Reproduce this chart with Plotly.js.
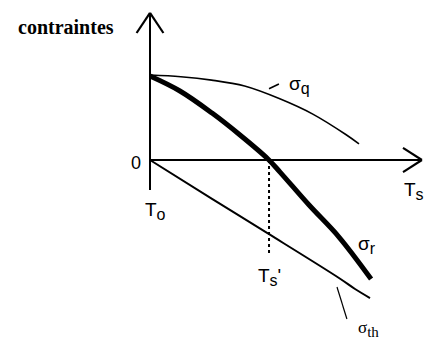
<!DOCTYPE html>
<html>
<head>
<meta charset="utf-8">
<script src="https://cdn.plot.ly/plotly-3.0.1.min.js"></script>
<style>
  html, body { margin: 0; padding: 0; background: white; }
  #chart { width: 424px; height: 343px; }
</style>
</head>
<body>
<div id="chart"></div>
<script>
// Schematic: stresses vs. temperature during cooling (T0 -> Ts).
// Units are arbitrary: T from T0 = 0, stress in relative units.

const tQ = [0, 1.4, 2.8, 4.3, 5.9, 7.4, 8.9, 9.5];
const sigmaQ = [5.0, 4.9, 4.7, 4.35, 3.6, 2.7, 1.5, 0.95];

const tR = [0, 1.36, 2.82, 4.09, 5.36, 5.91, 7.23, 8.59, 10.05];
const sigmaR = [4.94, 4.06, 2.76, 1.47, 0.06, -0.71, -2.65, -4.53, -7.0];

const tTh = [0, 2.82, 5.32, 8.59, 9.32, 10.0];
const sigmaTh = [0, -2.29, -4.29, -6.94, -7.59, -8.12];

const tsPrime = 5.41;       // where sigma_r crosses zero
const tsPrimeDashEnd = -5.6;

const INK = "#000";
const SANS = "Liberation Sans, Arial, sans-serif";
const SERIF = "Liberation Serif, Times New Roman, serif";

// axis extents (data units)
const xAxisEnd = 12.36;
const yAxisTop = 8.65;
const yAxisBottom = -1.76;
const arrowLenX = 0.86, arrowHalfY = 0.71;   // x-axis chevron
const arrowLenY = 1.18, arrowHalfX = 0.61;   // y-axis chevron

const traces = [
  { x: tQ, y: sigmaQ, mode: "lines", line: { color: INK, width: 1.6, shape: "spline" }, hoverinfo: "skip" },
  { x: tR, y: sigmaR, mode: "lines", line: { color: INK, width: 5, shape: "spline" }, hoverinfo: "skip" },
  { x: tTh, y: sigmaTh, mode: "lines", line: { color: INK, width: 2, shape: "spline" }, hoverinfo: "skip" },
];

function seg(x0, y0, x1, y1, w, dash) {
  return { type: "line", xref: "x", yref: "y", x0, y0, x1, y1,
    line: { color: INK, width: w, dash: dash || "solid" } };
}

const shapes = [
  // axes
  seg(0, yAxisBottom, 0, yAxisTop, 2),
  seg(0, 0, xAxisEnd, 0, 2),
  // chevrons
  seg(-arrowHalfX, yAxisTop - arrowLenY, 0, yAxisTop, 2.2),
  seg(arrowHalfX, yAxisTop - arrowLenY, 0, yAxisTop, 2.2),
  seg(xAxisEnd - arrowLenX, arrowHalfY, xAxisEnd, 0, 2.2),
  seg(xAxisEnd - arrowLenX, -arrowHalfY, xAxisEnd, 0, 2.2),
  // Ts' dotted marker
  seg(tsPrime, 0, tsPrime, tsPrimeDashEnd, 2, "dot"),
  // leader lines
  seg(5.41, 4.19, 5.86, 4.47, 1.6),
  seg(8.5, -7.47, 8.95, -9.35, 1.2),
];

function sub(s, px) {
  return "<sub><span style='font-size:" + px + "px'>" + s + "</span></sub>";
}

function label(x, y, text, size, family) {
  return { x, y, xref: "x", yref: "y", text, showarrow: false,
    font: { family: family || SANS, size: size, color: INK } };
}

const annotations = [
  label(-3.8, 7.85, "<b>contraintes</b>", 20, SERIF),
  label(-0.64, -0.18, "0", 18),
  label(0.25, -3.0, "T" + sub("o", 16), 19),
  label(12.0, -1.8, "T" + sub("s", 16), 19),
  label(5.45, -6.9, "T" + sub("s", 16) + "'", 19),
  label(6.8, 4.4, "σ" + sub("q", 16), 19),
  label(9.85, -5.0, "σ" + sub("r", 16), 19),
  label(9.95, -9.95, "σ" + sub("th", 15), 17, SERIF),
];

const layout = {
  width: 424, height: 343,
  margin: { l: 0, r: 0, t: 0, b: 0 },
  paper_bgcolor: "white", plot_bgcolor: "white",
  showlegend: false,
  xaxis: { range: [-150 / 22, 274 / 22], visible: false, fixedrange: true },
  yaxis: { range: [-183 / 17, 160 / 17], visible: false, fixedrange: true },
  shapes, annotations,
};

Plotly.newPlot("chart", traces, layout, { displayModeBar: false, staticPlot: true });
</script>
</body>
</html>
